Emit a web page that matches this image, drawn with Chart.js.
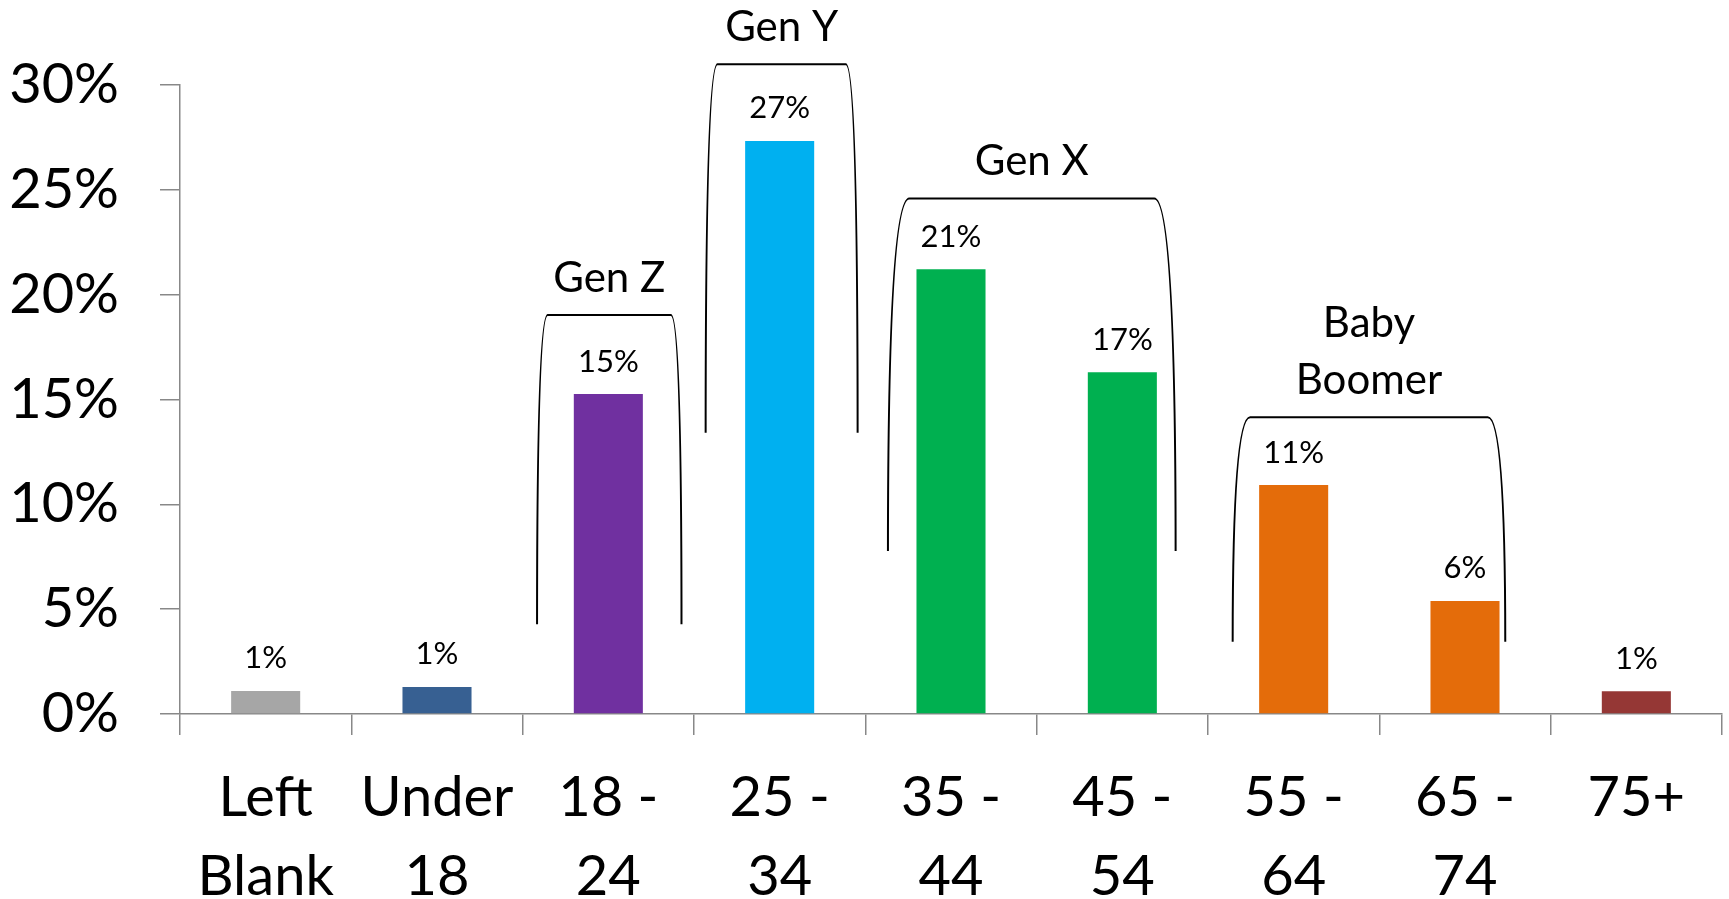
<!DOCTYPE html>
<html>
<head>
<meta charset="utf-8">
<script src="https://cdn.jsdelivr.net/npm/chart.js@4.4.1/dist/chart.umd.min.js"></script>
<style>
html,body{margin:0;padding:0;background:#fff;overflow:hidden}
#wrap{width:1729px;height:899px;position:relative}
canvas{display:block}
</style>
</head>
<body>
<div id="wrap"><canvas id="c" width="1729" height="899"></canvas></div>
<script>
// ---- data ----
const categories = [['Left','Blank'],['Under','18'],['18 -','24'],['25 -','34'],['35 -','44'],['45 -','54'],['55 -','64'],['65 -','74'],['75+']];
const shares = [1.10, 1.29, 15.26, 27.33, 21.21, 16.30, 10.92, 5.39, 1.09];
const shareLabels = ['1%','1%','15%','27%','21%','17%','11%','6%','1%'];
const barColors = ['#A6A6A6','#376092','#7030A0','#00B0F0','#00B050','#00B050','#E46C0A','#E46C0A','#953735'];
const yTickValues = [0, 5, 10, 15, 20, 25, 30];
const generationNames = [['Gen Z'], ['Gen Y'], ['Gen X'], ['Baby','Boomer']];
// bracket extents in axis units (category index / percent)
const bracketFrom   = [1.584, 2.568, 3.632, 5.644];
const bracketTo     = [2.427, 3.455, 5.311, 7.235];
const bracketInset  = [0.062, 0.069, 0.125, 0.102];
const bracketTop    = [19.03, 30.99, 24.59, 14.15];
const bracketBottom = [4.28, 13.42, 7.77, 3.45];

const FONT = 'Lato, "Open Sans", "DejaVu Sans", sans-serif';
const AXIS = '#888888';

const overlay = {
  id: 'overlay',
  afterDatasetsDraw(chart) {
    const ctx = chart.ctx;
    const x = chart.scales.x, y = chart.scales.y;
    const meta = chart.getDatasetMeta(0);
    ctx.save();
    ctx.fillStyle = '#000';
    ctx.textAlign = 'center';
    ctx.textBaseline = 'alphabetic';
    ctx.font = '31px ' + FONT;
    meta.data.forEach((bar, i) => {
      ctx.fillText(shareLabels[i], bar.x, bar.y - 22.5);
    });
    ctx.strokeStyle = '#000';
    ctx.lineWidth = 2;
    generationNames.forEach((lines, g) => {
      const xl = x.getPixelForValue(bracketFrom[g]);
      const xr = x.getPixelForValue(bracketTo[g]);
      const xtl = x.getPixelForValue(bracketFrom[g] + bracketInset[g]);
      const xtr = x.getPixelForValue(bracketTo[g] - bracketInset[g]);
      const yt = y.getPixelForValue(bracketTop[g]);
      const yb = y.getPixelForValue(bracketBottom[g]);
      ctx.beginPath();
      ctx.moveTo(xl, yb);
      ctx.quadraticCurveTo(xl, yt, xtl, yt);
      ctx.lineTo(xtr, yt);
      ctx.quadraticCurveTo(xr, yt, xr, yb);
      ctx.stroke();
      ctx.font = '42px ' + FONT;
      const cx = (xtl + xtr) / 2;
      lines.forEach((t, k) => {
        ctx.fillText(t, cx, yt - 23.5 - (lines.length - 1 - k) * 56.7);
      });
    });
    ctx.restore();
  }
};

function draw() {
  new Chart(document.getElementById('c'), {
    type: 'bar',
    data: {
      labels: categories,
      datasets: [{
        data: shares,
        backgroundColor: barColors,
        borderWidth: 0,
        categoryPercentage: 1,
        barPercentage: 0.403
      }]
    },
    options: {
      responsive: false,
      animation: false,
      devicePixelRatio: 1,
      layout: { padding: { top: 85, right: 7, left: 0, bottom: 0 } },
      plugins: { legend: { display: false }, tooltip: { enabled: false } },
      scales: {
        x: {
          grid: { display: true, drawOnChartArea: false, drawTicks: true, tickLength: 21, color: AXIS, lineWidth: 1.5, offset: true },
          border: { display: true, color: AXIS, width: 1.5 },
          ticks: { color: '#000', font: { family: FONT, size: 56, lineHeight: 1.41 }, padding: 23, maxRotation: 0, minRotation: 0, autoSkip: false },
          afterFit(s) { s.height = 185; }
        },
        y: {
          min: 0, max: 30,
          afterBuildTicks(s) { s.ticks = yTickValues.map(v => ({ value: v })); },
          ticks: { color: '#000', font: { family: FONT, size: 56 }, padding: 41, callback: v => v + '%' },
          grid: { display: true, drawOnChartArea: false, drawTicks: true, tickLength: 20, color: AXIS, lineWidth: 1.5 },
          border: { display: true, color: AXIS, width: 1.5 },
          afterFit(s) { s.width = 180; }
        }
      }
    },
    plugins: [overlay]
  });
}

if (document.fonts && document.fonts.load) {
  Promise.all([
    document.fonts.load('56px Lato'),
    document.fonts.load('42px Lato'),
    document.fonts.load('31px Lato')
  ]).then(draw, draw);
} else {
  draw();
}
</script>
</body>
</html>
